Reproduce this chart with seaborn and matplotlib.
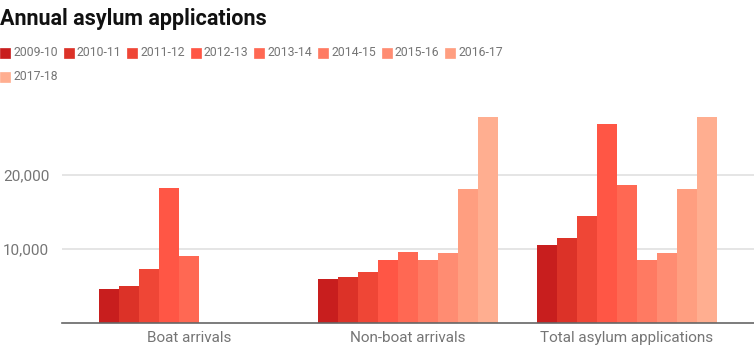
import matplotlib
matplotlib.use("Agg")
import matplotlib.pyplot as plt
from matplotlib.ticker import FuncFormatter
import pandas as pd
import seaborn as sns

categories = ["Boat arrivals", "Non-boat arrivals", "Total asylum applications"]
years = ["2009-10", "2010-11", "2011-12", "2012-13", "2013-14",
         "2014-15", "2015-16", "2016-17", "2017-18"]
boat = [4530, 5010, 7280, 18290, 9000, 0, 0, 0, 0]
non_boat = [5880, 6190, 6910, 8450, 9620, 8450, 9490, 18160, 27910]
total = [10490, 11520, 14420, 26880, 18660, 8450, 9490, 18160, 27910]
colors = ["#c81e1e", "#dc3228", "#ef4636", "#ff5645", "#ff6853",
          "#ff7a62", "#ff8c72", "#ff9e80", "#ffae90"]

rows = []
for cat, vals in zip(categories, [boat, non_boat, total]):
    for yr, v in zip(years, vals):
        rows.append({"category": cat, "year": yr, "value": v})
df = pd.DataFrame(rows)

sns.set_style("white")
plt.rcParams["font.family"] = ["Roboto", "DejaVu Sans"]

fig = plt.figure(figsize=(7.54, 3.52), dpi=100)
ax = fig.add_axes([61.7 / 754, 1 - 322.7 / 352, 1 - 61.7 / 754, (322.7 - 116.7) / 352])

sns.barplot(data=df, x="category", y="value", hue="year", palette=colors,
            width=180 / 219, linewidth=0, saturation=1, ax=ax, legend=False)

ax.set_ylim(0, max(non_boat + total))
ax.set_xlim(-0.583, 2.58)
ax.set_yticks([10000, 20000])
ax.yaxis.set_major_formatter(FuncFormatter(lambda v, p: f"{int(v):,}"))
ax.grid(axis="y", color="#e0e0e0", linewidth=1.2)
ax.set_axisbelow(True)
for s in ["top", "right", "left"]:
    ax.spines[s].set_visible(False)
ax.spines["bottom"].set_color("#666666")
ax.spines["bottom"].set_linewidth(1.2)
ax.tick_params(axis="both", length=0, labelsize=11, labelcolor="#757575")
ax.tick_params(axis="y", pad=9)
ax.tick_params(axis="x", pad=6)
ax.set_xlabel("")
ax.set_ylabel("")

fig.text(0.0, 1 - 19 / 352, "Annual asylum applications", fontsize=15.5,
         fontweight="bold", color="#111111", va="center", ha="left")

for i, (yr, c) in enumerate(zip(years, colors)):
    row, col = divmod(i, 8)
    x0 = col * 63.6
    y0 = 53 + row * 24
    fig.patches.append(plt.Rectangle((x0 / 754, 1 - (y0 + 5) / 352), 10 / 754, 10 / 352,
                                     transform=fig.transFigure, facecolor=c,
                                     edgecolor=c, linewidth=0.5, figure=fig))
    fig.text((x0 + 13) / 754, 1 - y0 / 352, yr, fontsize=8.8, color="#757575",
             va="center", ha="left")

fig.savefig("out.png", dpi=100)
